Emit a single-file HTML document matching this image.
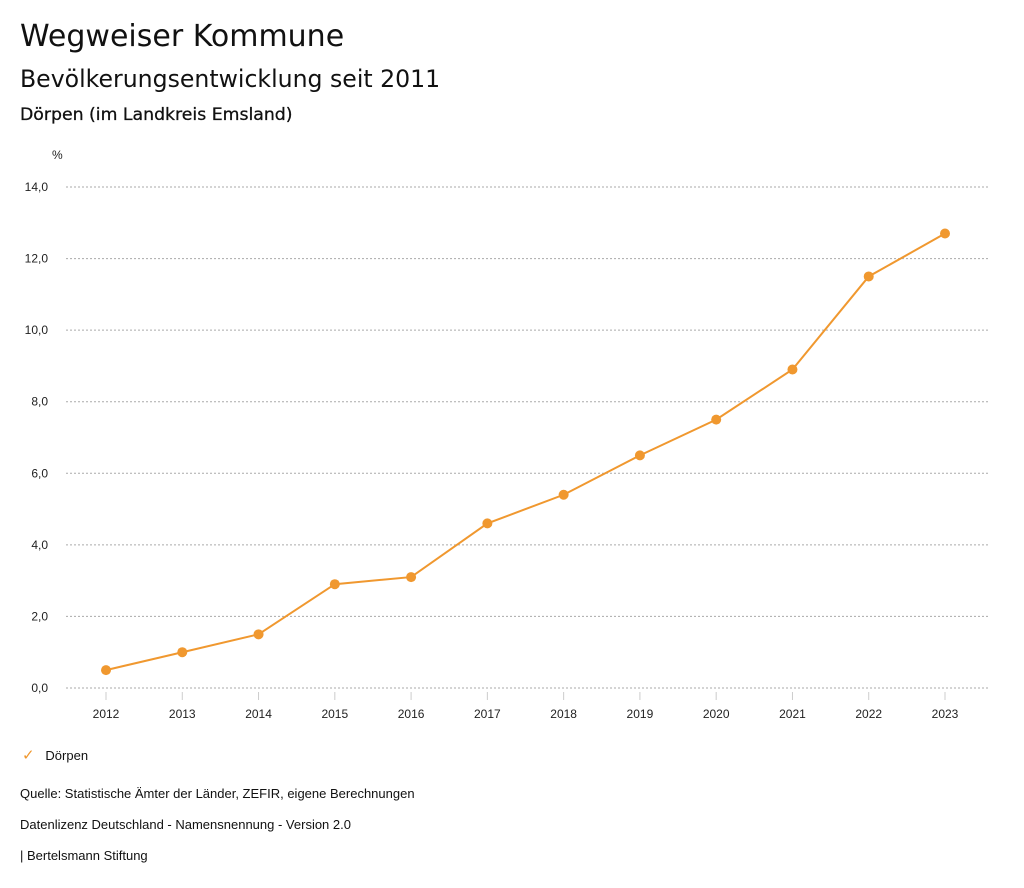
<!DOCTYPE html>
<html><head><meta charset="utf-8"><style>
body{margin:0;width:1024px;height:888px;background:#fff;font-family:"Liberation Sans","DejaVu Sans",sans-serif;color:#111;overflow:hidden}
.t{position:absolute;left:20px;white-space:nowrap}
.h{font-family:"DejaVu Sans",sans-serif}
</style></head><body>
<div class="t h" style="top:19px;font-size:30px">Wegweiser Kommune</div>
<div class="t h" style="top:65px;font-size:23.6px">Bevölkerungsentwicklung seit 2011</div>
<div class="t h" style="top:105px;font-size:17.3px;-webkit-text-stroke:0.3px #111">Dörpen (im Landkreis Emsland)</div>
<svg id="chart" width="1024" height="888" style="position:absolute;left:0;top:0"></svg>
<div class="t" style="top:746px;font-size:13px;left:22px"><span style="color:#f0982f;font-size:15px">✓</span>&nbsp;&nbsp; Dörpen</div>
<div class="t" style="top:786px;font-size:13px">Quelle: Statistische Ämter der Länder, ZEFIR, eigene Berechnungen</div>
<div class="t" style="top:817px;font-size:13px">Datenlizenz Deutschland - Namensnennung - Version 2.0</div>
<div class="t" style="top:848px;font-size:13px">| Bertelsmann Stiftung</div>
<script>
const years=["2012","2013","2014","2015","2016","2017","2018","2019","2020","2021","2022","2023"];
const values=[0.5,1.0,1.5,2.9,3.1,4.6,5.4,6.5,7.5,8.9,11.5,12.7];
const yTicks=[0,2,4,6,8,10,12,14];
const yTickLabels=["0,0","2,0","4,0","6,0","8,0","10,0","12,0","14,0"];
const svg=document.getElementById('chart');const NS='http://www.w3.org/2000/svg';
const x0=106,x1=945,y0=688,y1=187;
const xs=i=>x0+(x1-x0)*i/(years.length-1);
const ys=v=>y0-(y0-y1)*v/14;
function mk(t,a){const e=document.createElementNS(NS,t);for(const k in a)e.setAttribute(k,a[k]);svg.appendChild(e);return e;}
let u=mk('text',{x:52,y:159,'font-size':12,fill:'#222'});u.textContent='%';


yTicks.forEach((v,i)=>{
 const g=mk('line',{x1:66,x2:990,y1:ys(v),y2:ys(v),stroke:'#aaa','stroke-dasharray':'2,2'});
 
 
 const t=mk('text',{x:48,y:ys(v)+4,'font-size':12,'text-anchor':'end',fill:'#222'});t.textContent=yTickLabels[i];
 
 
});
years.forEach((y,i)=>{
 const l=mk('line',{x1:xs(i),x2:xs(i),y1:692,y2:700,stroke:'#ccc'});
 
 
 const t=mk('text',{x:xs(i),y:718,'font-size':12,'text-anchor':'middle',fill:'#222'});t.textContent=y;
 
 
});
const p=mk('polyline',{points:values.map((v,i)=>xs(i)+','+ys(v)).join(' '),fill:'none',stroke:'#f0982f','stroke-width':2});


values.forEach((v,i)=>{
 const c=mk('circle',{cx:xs(i),cy:ys(v),r:5,fill:'#f0982f'});
 
 
});
</script>
</body></html>
